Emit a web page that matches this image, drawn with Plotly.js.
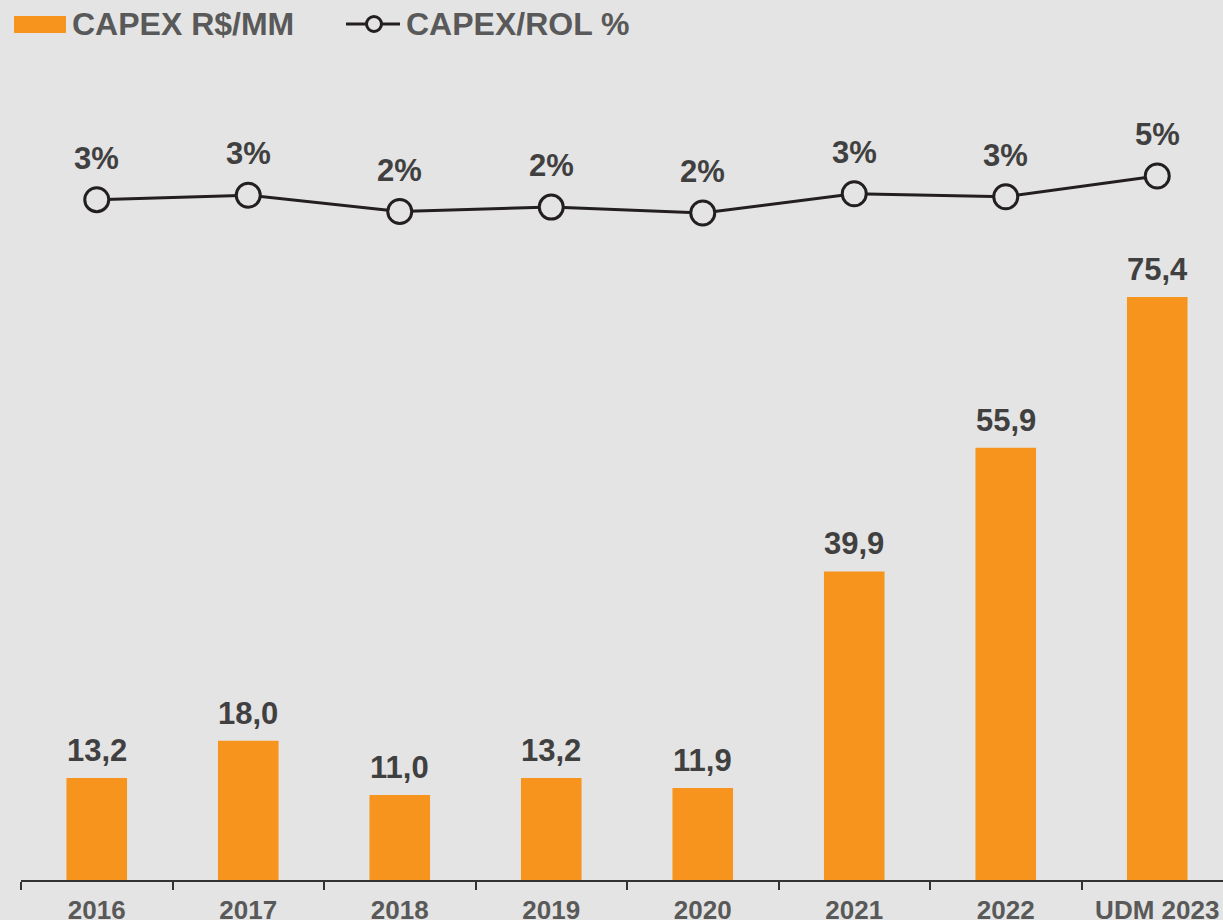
<!DOCTYPE html>
<html>
<head>
<meta charset="utf-8">
<script src="https://cdn.plot.ly/plotly-3.0.1.min.js"></script>
<style>
html,body{margin:0;padding:0;background:#e4e4e4;}
#chart{width:1223px;height:920px;}
</style>
</head>
<body>
<div id="chart"></div>
<script>
// ---- data ----
const categories = ["2016", "2017", "2018", "2019", "2020", "2021", "2022", "UDM 2023"];
const capexValues = [13.2, 18.0, 11.0, 13.2, 11.9, 39.9, 55.9, 75.4];
const capexRolValues = [2.9, 3.2, 2.1, 2.4, 2.0, 3.3, 3.1, 4.5];
const capexRolLabels = ["3%", "3%", "2%", "2%", "2%", "3%", "3%", "5%"];
const seriesNames = ["CAPEX R$/MM", "CAPEX/ROL %"];

// ---- styling ----
const BG = "#e4e4e4";
const ORANGE = "#f7941d";
const LINE = "#231f20";
const LABEL = "#404040";
const AXISTEXT = "#595959";
const FONT = "Liberation Sans, Arial, sans-serif";

const W = 1223, H = 920;
const M = {l: 21, r: 0, t: 60, b: 40};
const plotW = W - M.l - M.r, plotH = H - M.t - M.b;
const px2x = X => (X - M.l) / plotW;
const px2y = Y => (H - M.b - Y) / plotH;

const bars = {
  type: "bar",
  x: categories,
  y: capexValues,
  name: seriesNames[0],
  marker: {color: ORANGE},
  width: 0.4,
  showlegend: false
};

const line = {
  type: "scatter",
  mode: "lines+markers",
  x: categories,
  y: capexRolValues,
  yaxis: "y2",
  name: seriesNames[1],
  line: {color: LINE, width: 3},
  marker: {symbol: "circle", size: 24, color: BG, line: {color: LINE, width: 3}},
  showlegend: false
};

const annotations = [];
categories.forEach((c, i) => {
  annotations.push({
    x: i, y: capexValues[i], xref: "x", yref: "y",
    text: capexValues[i].toFixed(1).replace(".", ","),
    showarrow: false, yanchor: "bottom", yshift: 8,
    font: {family: FONT, size: 31, color: LABEL, weight: "bold"}
  });
  annotations.push({
    x: i, y: capexRolValues[i], xref: "x", yref: "y2",
    text: capexRolLabels[i],
    showarrow: false, yanchor: "bottom", yshift: 22,
    font: {family: FONT, size: 31, color: LABEL, weight: "bold"}
  });
});

// legend (drawn manually)
annotations.push({
  x: px2x(70), y: px2y(24), xref: "paper", yref: "paper",
  text: seriesNames[0], showarrow: false, xanchor: "left", yanchor: "middle",
  font: {family: FONT, size: 32, color: AXISTEXT, weight: "bold"}
});
annotations.push({
  x: px2x(404), y: px2y(24), xref: "paper", yref: "paper",
  text: seriesNames[1], showarrow: false, xanchor: "left", yanchor: "middle",
  font: {family: FONT, size: 32, color: AXISTEXT, weight: "bold"}
});

const shapes = [
  {type: "rect", xref: "paper", yref: "paper",
   x0: px2x(14), x1: px2x(66), y0: px2y(33), y1: px2y(16),
   fillcolor: ORANGE, line: {width: 0}},
  {type: "line", xref: "paper", yref: "paper",
   x0: px2x(346), x1: px2x(400), y0: px2y(24), y1: px2y(24),
   line: {color: LINE, width: 3}},
  {type: "circle", xref: "paper", yref: "paper",
   x0: px2x(366.5), x1: px2x(381.5), y0: px2y(31.5), y1: px2y(16.5),
   fillcolor: BG, line: {color: LINE, width: 3}}
];

const layout = {
  width: W, height: H,
  margin: M,
  paper_bgcolor: BG,
  plot_bgcolor: BG,
  showlegend: false,
  separators: ",.",
  font: {family: FONT, color: AXISTEXT},
  xaxis: {
    type: "category",
    range: [-0.5, -0.5 + plotW / 151.5],
    showgrid: false, zeroline: false,
    showline: true, linecolor: "#333333", linewidth: 2,
    ticks: "outside", tickson: "boundaries", ticklen: 8, tickwidth: 2, tickcolor: "#333333",
    tickfont: {family: FONT, size: 26, color: AXISTEXT, weight: "bold"},
    ticklabelstandoff: 6,
    fixedrange: true
  },
  yaxis: {
    range: [0, plotH / 7.732],
    visible: false, showgrid: false, zeroline: false, fixedrange: true
  },
  yaxis2: {
    overlaying: "y", side: "right",
    range: [2.0 - (H - M.b - 213) / 14.8, 2.0 + (213 - M.t) / 14.8],
    visible: false, showgrid: false, zeroline: false, fixedrange: true
  },
  annotations: annotations,
  shapes: shapes
};

Plotly.newPlot("chart", [bars, line], layout, {displayModeBar: false, staticPlot: true});
</script>
</body>
</html>
